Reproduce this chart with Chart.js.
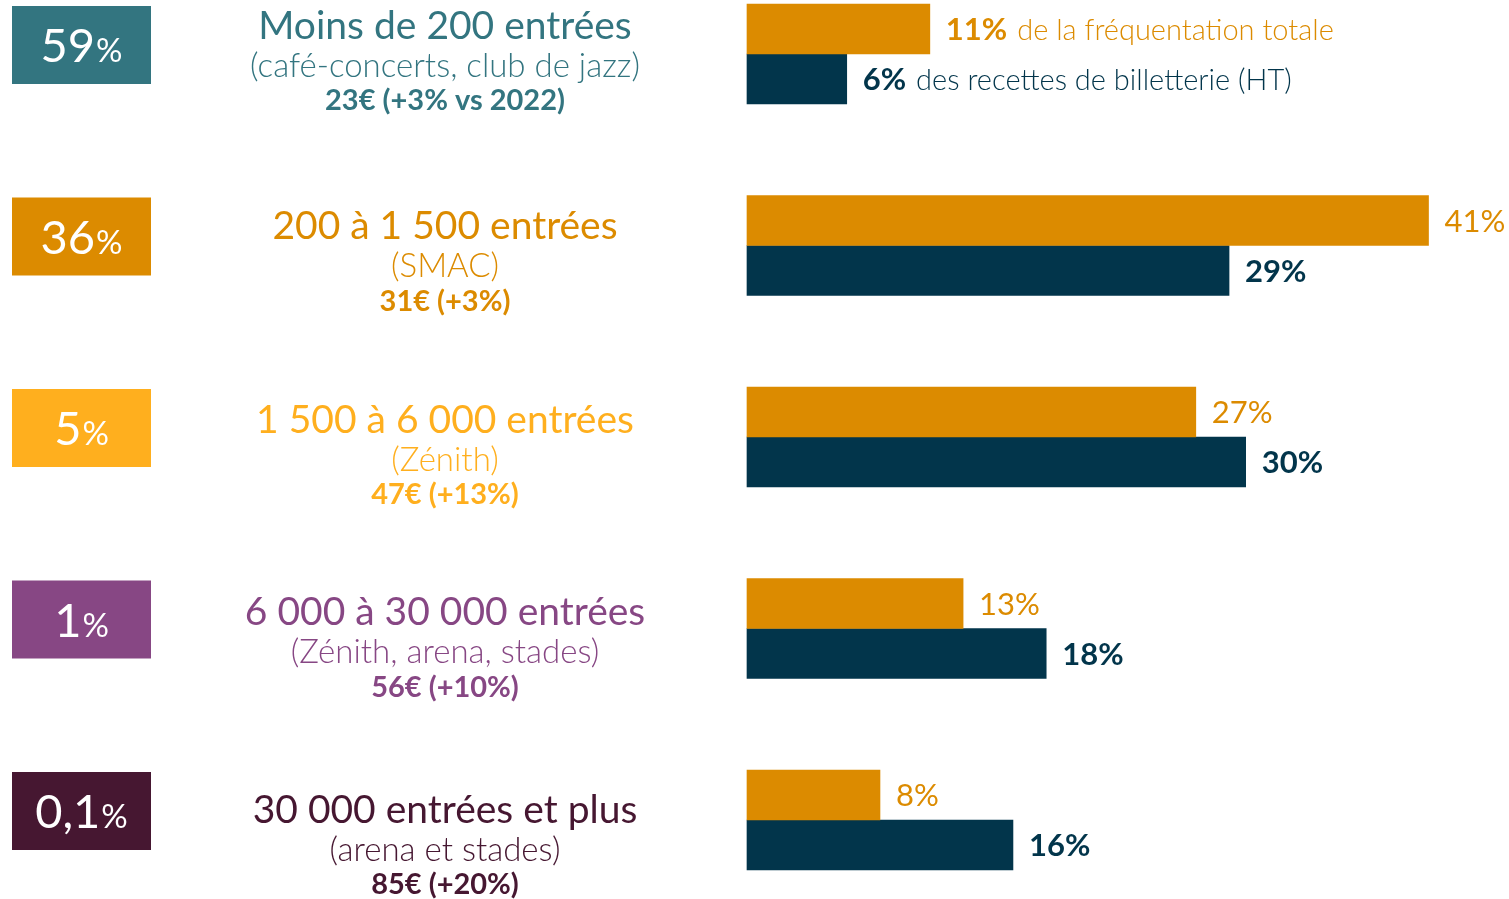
<!DOCTYPE html>
<html lang="fr">
<head>
<meta charset="utf-8">
<title>Salles de concert par jauge</title>
<script src="https://cdn.jsdelivr.net/npm/chart.js@4"></script>
<style>
  html, body { margin: 0; padding: 0; background: #fff; }
  .wrap { position: relative; width: 1509px; height: 899px; }
</style>
</head>
<body>
<div class="wrap"><canvas id="jauges"></canvas></div>
<script>
// données
const categories = ['Moins de 200 entrées', '200 à 1 500 entrées', '1 500 à 6 000 entrées', '6 000 à 30 000 entrées', '30 000 entrées et plus'];
const venueTypes = ['(café-concerts, club de jazz)', '(SMAC)', '(Zénith)', '(Zénith, arena, stades)', '(arena et stades)'];
const avgPrices = ['23€ (+3% vs 2022)', '31€ (+3%)', '47€ (+13%)', '56€ (+10%)', '85€ (+20%)'];
const venueShare = ['59', '36', '5', '1', '0,1'];
const attendance = [11, 41, 27, 13, 8];
const ticketRevenue = [6, 29, 30, 18, 16];

const rowColors = ['#337580', '#dc8b00', '#ffaf1e', '#874784', '#461731'];
const orange = '#dc8b00';
const navy = '#02354b';
const FONT = 'Lato, "Open Sans", sans-serif';

// petit décalage vertical du bloc texte par ligne (comme sur l'original)
const textShift = [-28, -19, -17, -16, -10];

const font = (weight, size) => `${weight} ${size}px ${FONT}`;

const drawSideLabels = {
  id: 'sideLabels',
  afterDatasetsDraw(chart) {
    const ctx = chart.ctx;
    const y = chart.scales.y;
    ctx.save();
    categories.forEach((cat, i) => {
      const cy = y.getPixelForValue(i);
      // boîte de couleur avec part des salles
      ctx.fillStyle = rowColors[i];
      ctx.fillRect(12, cy - 48, 139, 78);
      ctx.fillStyle = '#fff';
      ctx.textBaseline = 'alphabetic';
      ctx.font = font(400, 47);
      const num = venueShare[i];
      const wNum = ctx.measureText(num).width;
      ctx.font = font(400, 33);
      const wPct = ctx.measureText('%').width;
      let x0 = 81 - (wNum + wPct) / 2;
      ctx.font = font(400, 47);
      ctx.textAlign = 'left';
      ctx.fillText(num, x0, cy + 8);
      ctx.font = font(400, 33);
      ctx.fillText('%', x0 + wNum + 1, cy + 8);

      // texte central
      const ty = cy + textShift[i];
      ctx.fillStyle = rowColors[i];
      ctx.textAlign = 'center';
      ctx.textBaseline = 'middle';
      ctx.font = font(400, 39);
      ctx.fillText(cat, 445, ty);
      ctx.font = font(300, 33);
      ctx.fillText(venueTypes[i], 445, ty + 40);
      ctx.font = font(700, 29);
      ctx.fillText(avgPrices[i], 445, ty + 75);
    });
    ctx.restore();
  }
};

const drawBarLabels = {
  id: 'barLabels',
  afterDatasetsDraw(chart) {
    const ctx = chart.ctx;
    ctx.save();
    ctx.textAlign = 'left';
    ctx.textBaseline = 'middle';
    chart.data.datasets.forEach((ds, d) => {
      chart.getDatasetMeta(d).data.forEach((bar, i) => {
        const txt = ds.data[i] + '%';
        const x = bar.x + 16;
        ctx.fillStyle = ds.backgroundColor;
        ctx.font = i === 0 ? font(700, 31) : font(d === 0 ? 400 : 700, 31);
        ctx.fillText(txt, x, bar.y + 1);
        if (i === 0) {
          const w = ctx.measureText(txt).width;
          ctx.font = font(300, 29);
          ctx.fillText(ds.label, x + w + 10, bar.y + 2);
        }
      });
    });
    ctx.restore();
  }
};

new Chart(document.getElementById('jauges'), {
  type: 'bar',
  data: {
    labels: categories,
    datasets: [
      { label: 'de la fréquentation totale', data: attendance, backgroundColor: orange, barThickness: 50, clip: false },
      { label: 'des recettes de billetterie (HT)', data: ticketRevenue, backgroundColor: navy, barThickness: 50, clip: false }
    ]
  },
  options: {
    indexAxis: 'y',
    responsive: true,
    maintainAspectRatio: false,
    animation: false,
    layout: { padding: { left: 747, right: 14, top: 54, bottom: 79 } },
    scales: {
      x: { display: false, min: 0, max: 45 },
      y: { display: false, offset: false }
    },
    plugins: {
      legend: { display: false },
      tooltip: { enabled: false }
    }
  },
  plugins: [drawSideLabels, drawBarLabels]
});
</script>
</body>
</html>
